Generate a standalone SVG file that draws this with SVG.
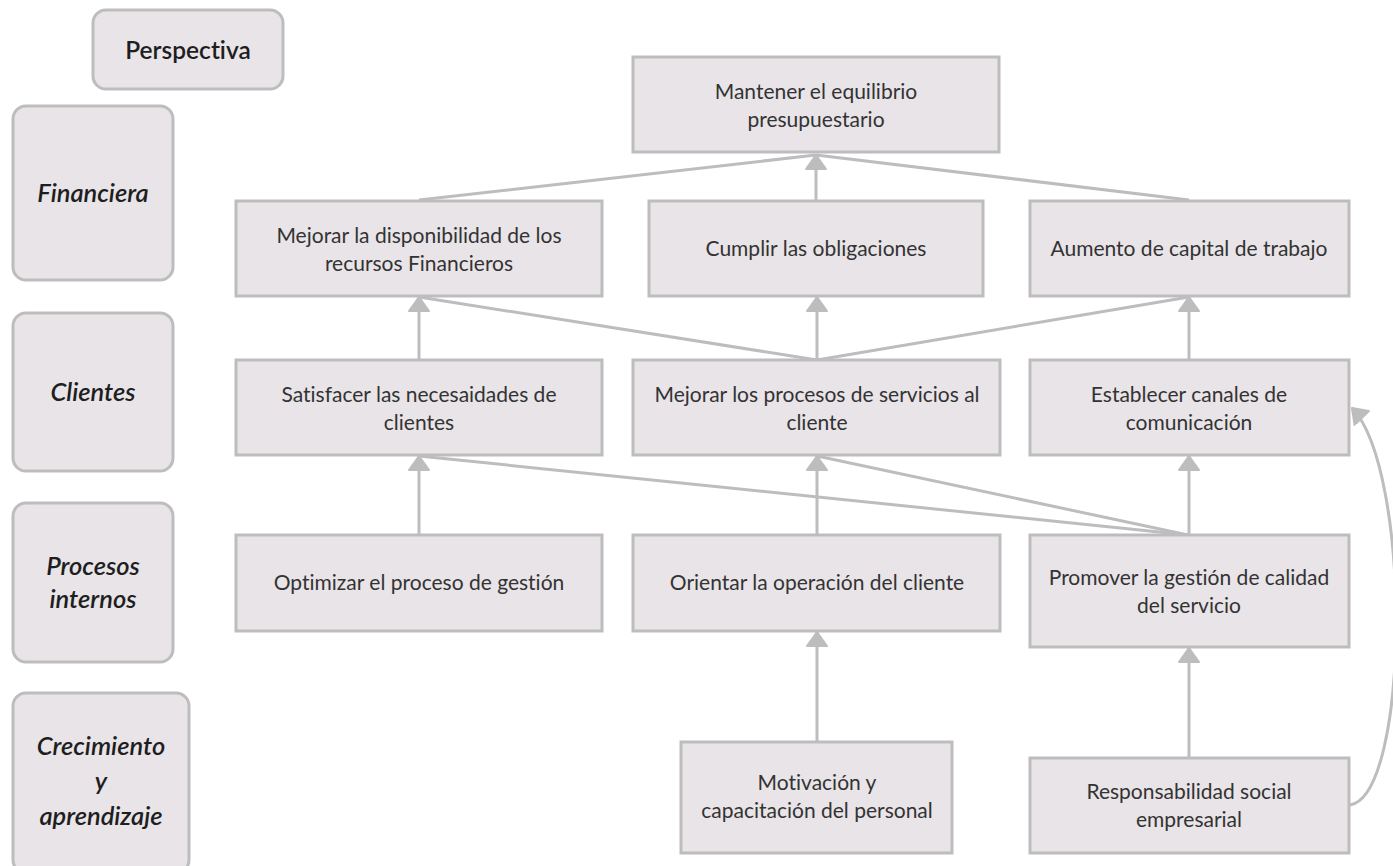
<svg xmlns="http://www.w3.org/2000/svg" width="1393" height="866" viewBox="0 0 1393 866">
  <style>
    text { font-variant-ligatures: none; }
    .box { fill: #e8e4e8; stroke: #bdbdbd; stroke-width: 3; }
    .txt { font-family: Lato, "Liberation Sans", sans-serif; font-size: 21px; fill: #333333; text-anchor: middle; }
    .lbl { font-family: Lato, "Liberation Sans", sans-serif; font-size: 25.5px; font-style: italic; font-weight: 600; fill: #1e1e1e; text-anchor: middle; }
    .hdr { font-family: Lato, "Liberation Sans", sans-serif; font-size: 24.5px; font-weight: 600; fill: #1e1e1e; text-anchor: middle; }
    .edge { fill: none; stroke: #bdbdbd; stroke-width: 3; }
    .arrow { marker-end: url(#head); }
  </style>
  <defs>
    <marker id="head" markerUnits="userSpaceOnUse" markerWidth="17" markerHeight="24" refX="15" refY="11" orient="auto" viewBox="0 0 17 22">
      <path d="M1,1 L15,11 L1,21 Z" fill="#bdbdbd" stroke="#bdbdbd" stroke-width="2" stroke-linejoin="round"/>
    </marker>
  </defs>

  <rect width="1393" height="866" fill="#ffffff"/>

  <!-- perspective column -->
  <g id="perspectiva">
    <rect class="box" x="93" y="10" width="190" height="79" rx="13"/>
    <text class="hdr" x="188" y="59">Perspectiva</text>
  </g>
  <g id="financiera">
    <rect class="box" x="13" y="106" width="160" height="174" rx="13"/>
    <text class="lbl" x="93" y="202">Financiera</text>
  </g>
  <g id="clientes">
    <rect class="box" x="13" y="313" width="160" height="158" rx="13"/>
    <text class="lbl" x="93" y="401">Clientes</text>
  </g>
  <g id="procesos">
    <rect class="box" x="13" y="503" width="160" height="159" rx="13"/>
    <text class="lbl" x="93" y="575">Procesos</text>
    <text class="lbl" x="93" y="608">internos</text>
  </g>
  <g id="crecimiento">
    <rect class="box" x="13" y="693" width="176" height="180" rx="13"/>
    <text class="lbl" x="101" y="755">Crecimiento</text>
    <text class="lbl" x="101" y="790">y</text>
    <text class="lbl" x="101" y="825">aprendizaje</text>
  </g>

  <!-- connectors -->
  <g id="connectors">
    <!-- financial row into the top goal -->
    <path class="edge" d="M419,200 L816,155"/>
    <path class="edge" d="M1189,200 L816,155"/>
    <path class="edge arrow" d="M816,200 L816,155"/>

    <!-- customer row into financial row -->
    <path class="edge arrow" d="M419,360 L419,297"/>
    <path class="edge" d="M817,360 L419,297"/>
    <path class="edge arrow" d="M817,360 L817,297"/>
    <path class="edge" d="M817,360 L1189,297"/>
    <path class="edge arrow" d="M1189,360 L1189,297"/>
    <path class="edge" d="M419,296 L432,288"/>
    <path class="edge" d="M1189,296 L1177,288"/>

    <!-- internal processes into customer row -->
    <path class="edge arrow" d="M419,535 L419,456"/>
    <path class="edge" d="M1188,535 L419,456"/>
    <path class="edge arrow" d="M817,535 L817,456"/>
    <path class="edge" d="M1188,535 L817,456"/>
    <path class="edge arrow" d="M1189,535 L1189,456"/>
    <path class="edge" d="M419,456 L428,447"/>
    <path class="edge" d="M817,455 L830,447"/>

    <!-- learning and growth into internal processes -->
    <path class="edge arrow" d="M817,742 L817,632"/>
    <path class="edge arrow" d="M1189,758 L1189,648"/>
    <path class="edge arrow" d="M1350,805 C1410,795 1412,470 1352,408"/>
  </g>

  <!-- objectives -->
  <g id="mantener">
    <rect class="box" x="633" y="57" width="366" height="95"/>
    <text class="txt" x="816" y="99">Mantener el equilibrio</text>
    <text class="txt" x="816" y="127">presupuestario</text>
  </g>
  <g id="mejorar-recursos">
    <rect class="box" x="236" y="201" width="366" height="95"/>
    <text class="txt" x="419" y="243">Mejorar la disponibilidad de los</text>
    <text class="txt" x="419" y="271">recursos Financieros</text>
  </g>
  <g id="cumplir">
    <rect class="box" x="649" y="201" width="334" height="95"/>
    <text class="txt" x="816" y="256">Cumplir las obligaciones</text>
  </g>
  <g id="aumento">
    <rect class="box" x="1030" y="201" width="319" height="95"/>
    <text class="txt" x="1189" y="256">Aumento de capital de trabajo</text>
  </g>
  <g id="satisfacer">
    <rect class="box" x="236" y="360" width="366" height="95"/>
    <text class="txt" x="419" y="402">Satisfacer las necesaidades de</text>
    <text class="txt" x="419" y="430">clientes</text>
  </g>
  <g id="mejorar-procesos">
    <rect class="box" x="633" y="360" width="367" height="95"/>
    <text class="txt" x="817" y="402">Mejorar los procesos de servicios al</text>
    <text class="txt" x="817" y="430">cliente</text>
  </g>
  <g id="establecer">
    <rect class="box" x="1030" y="360" width="319" height="95"/>
    <text class="txt" x="1189" y="402">Establecer canales de</text>
    <text class="txt" x="1189" y="430">comunicación</text>
  </g>
  <g id="optimizar">
    <rect class="box" x="236" y="535" width="366" height="96"/>
    <text class="txt" x="419" y="590">Optimizar el proceso de gestión</text>
  </g>
  <g id="orientar">
    <rect class="box" x="633" y="535" width="367" height="96"/>
    <text class="txt" x="817" y="590">Orientar la operación del cliente</text>
  </g>
  <g id="promover">
    <rect class="box" x="1030" y="535" width="319" height="112"/>
    <text class="txt" x="1189" y="585">Promover la gestión de calidad</text>
    <text class="txt" x="1189" y="613">del servicio</text>
  </g>
  <g id="motivacion">
    <rect class="box" x="681" y="742" width="271" height="111"/>
    <text class="txt" x="817" y="790">Motivación y</text>
    <text class="txt" x="817" y="818">capacitación del personal</text>
  </g>
  <g id="responsabilidad">
    <rect class="box" x="1030" y="758" width="319" height="95"/>
    <text class="txt" x="1189" y="799">Responsabilidad social</text>
    <text class="txt" x="1189" y="827">empresarial</text>
  </g>
</svg>
